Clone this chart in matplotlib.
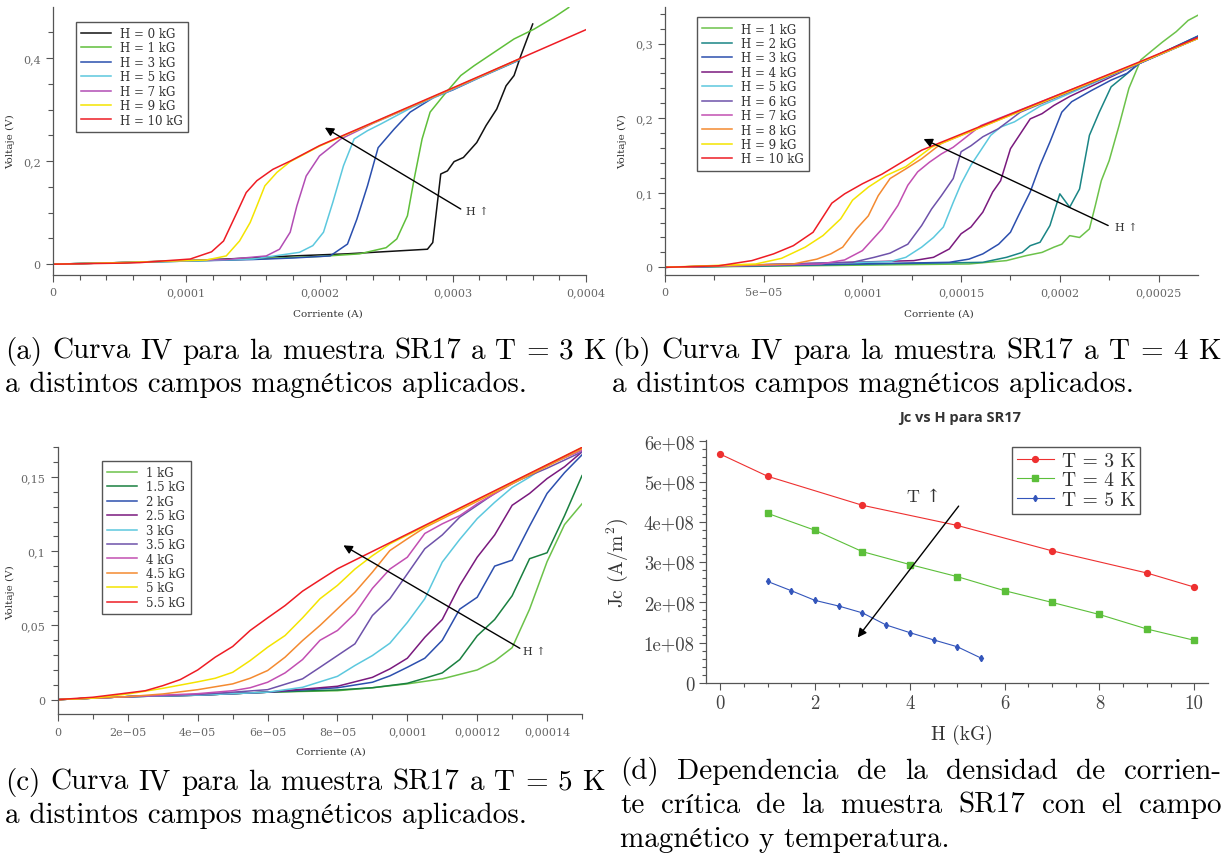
import numpy as np
import matplotlib
matplotlib.use('Agg')
import matplotlib.pyplot as plt
from matplotlib.ticker import MultipleLocator

plt.rcParams['mathtext.fontset'] = 'cm'
plt.rcParams['axes.unicode_minus'] = False

# ---------------- data: panel (a), T = 3 K ----------------
a_labels = ['H = 0 kG', 'H = 1 kG', 'H = 3 kG', 'H = 5 kG', 'H = 7 kG', 'H = 9 kG', 'H = 10 kG']
a_colors = ['#111111', '#5fbf3a', '#2a4fae', '#5cc8de', '#b24db4', '#f4e400', '#ee1c24']
a_I = [
    [0, 5e-5, 1e-4, 1.3e-4, 1.8e-4, 2.2e-4, 2.81e-4, 2.85e-4, 2.91e-4, 2.96e-4, 3.01e-4, 3.08e-4,
     3.18e-4, 3.25e-4, 3.33e-4, 3.4e-4, 3.46e-4, 3.51e-4, 3.6e-4],
    [0, 5e-5, 1e-4, 1.5e-4, 2e-4, 2.3e-4, 2.5e-4, 2.58e-4, 2.66e-4, 2.71e-4, 2.77e-4, 2.83e-4,
     2.93e-4, 3.06e-4, 3.16e-4, 3.31e-4, 3.46e-4, 3.61e-4, 3.76e-4, 3.87e-4],
    [0, 5e-5, 1e-4, 1.5e-4, 1.8e-4, 2.08e-4, 2.21e-4, 2.28e-4, 2.36e-4, 2.44e-4, 2.56e-4, 2.68e-4,
     2.86e-4, 3.0e-4, 3.2e-4, 3.5e-4],
    [0, 5e-5, 1e-4, 1.5e-4, 1.85e-4, 1.95e-4, 2.03e-4, 2.1e-4, 2.18e-4, 2.26e-4, 2.36e-4, 2.46e-4,
     2.7e-4, 3.0e-4, 3.5e-4],
    [0, 5e-5, 1e-4, 1.3e-4, 1.6e-4, 1.7e-4, 1.78e-4, 1.83e-4, 1.9e-4, 2.0e-4, 2.16e-4, 2.4e-4,
     3.0e-4, 3.5e-4],
    [0, 5e-5, 1e-4, 1.15e-4, 1.3e-4, 1.4e-4, 1.48e-4, 1.53e-4, 1.59e-4, 1.68e-4, 1.78e-4, 2.0e-4,
     3.0e-4, 3.5e-4],
    [0, 5e-5, 6.5e-5, 1.03e-4, 1.19e-4, 1.28e-4, 1.38e-4, 1.45e-4, 1.53e-4, 1.65e-4, 1.78e-4,
     2.0e-4, 3.0e-4, 4.0e-4],
]
a_V = [
    [0, 0.003, 0.007, 0.010, 0.016, 0.020, 0.029, 0.042, 0.175, 0.181, 0.199, 0.207,
     0.236, 0.269, 0.301, 0.346, 0.366, 0.404, 0.466],
    [0, 0.003, 0.006, 0.010, 0.015, 0.020, 0.032, 0.049, 0.094, 0.165, 0.243, 0.295,
     0.327, 0.366, 0.385, 0.411, 0.437, 0.456, 0.479, 0.498],
    [0, 0.003, 0.006, 0.009, 0.012, 0.016, 0.039, 0.087, 0.152, 0.226, 0.262, 0.295,
     0.324, 0.338, 0.362, 0.396],
    [0, 0.003, 0.006, 0.010, 0.023, 0.036, 0.062, 0.120, 0.191, 0.243, 0.259, 0.272,
     0.305, 0.339, 0.397],
    [0, 0.003, 0.007, 0.009, 0.016, 0.029, 0.062, 0.113, 0.171, 0.210, 0.243, 0.273,
     0.340, 0.398],
    [0, 0.003, 0.007, 0.008, 0.016, 0.045, 0.081, 0.113, 0.152, 0.178, 0.199, 0.229,
     0.341, 0.398],
    [0, 0.002, 0.003, 0.010, 0.024, 0.045, 0.100, 0.139, 0.162, 0.184, 0.200, 0.230,
     0.342, 0.455],
]

# ---------------- data: panel (b), T = 4 K ----------------
b_labels = ['H = 1 kG', 'H = 2 kG', 'H = 3 kG', 'H = 4 kG', 'H = 5 kG', 'H = 6 kG',
            'H = 7 kG', 'H = 8 kG', 'H = 9 kG', 'H = 10 kG']
b_colors = ['#6cc24a', '#1a8585', '#2c4fae', '#7a1a7e', '#5cc8de', '#6e52aa',
            '#c24fb2', '#f48a30', '#f4e400', '#ee1c24']
b_I = [
    [0, 1.54e-4, 1.73e-4, 1.83e-4, 1.91e-4, 1.97e-4, 2.01e-4, 2.05e-4, 2.1e-4, 2.15e-4, 2.18e-4,
     2.21e-4, 2.25e-4, 2.3e-4, 2.35e-4, 2.41e-4, 2.46e-4, 2.52e-4, 2.59e-4, 2.65e-4, 2.7e-4],
    [0, 1.61e-4, 1.73e-4, 1.81e-4, 1.85e-4, 1.9e-4, 1.95e-4, 2.0e-4, 2.05e-4, 2.1e-4, 2.15e-4,
     2.2e-4, 2.26e-4, 2.32e-4, 2.4e-4, 2.7e-4],
    [0, 1.44e-4, 1.54e-4, 1.61e-4, 1.69e-4, 1.75e-4, 1.79e-4, 1.85e-4, 1.9e-4, 1.95e-4, 2.01e-4,
     2.06e-4, 2.16e-4, 2.26e-4, 2.34e-4, 2.4e-4, 2.7e-4],
    [0, 1.26e-4, 1.36e-4, 1.44e-4, 1.5e-4, 1.55e-4, 1.61e-4, 1.66e-4, 1.7e-4, 1.75e-4, 1.8e-4,
     1.85e-4, 1.91e-4, 1.97e-4, 2.05e-4, 2.4e-4, 2.7e-4],
    [0, 1.14e-4, 1.22e-4, 1.3e-4, 1.36e-4, 1.41e-4, 1.46e-4, 1.5e-4, 1.55e-4, 1.6e-4, 1.65e-4,
     1.7e-4, 1.77e-4, 1.9e-4, 2.4e-4, 2.7e-4],
    [0, 9.5e-5, 1.06e-4, 1.14e-4, 1.23e-4, 1.3e-4, 1.35e-4, 1.4e-4, 1.46e-4, 1.5e-4, 1.55e-4,
     1.61e-4, 1.69e-4, 1.8e-4, 2.4e-4, 2.7e-4],
    [0, 7.9e-5, 9.1e-5, 1.0e-4, 1.1e-4, 1.18e-4, 1.23e-4, 1.28e-4, 1.34e-4, 1.4e-4, 1.46e-4,
     1.6e-4, 2.4e-4, 2.7e-4],
    [0, 6.5e-5, 7.7e-5, 8.4e-5, 9e-5, 9.7e-5, 1.03e-4, 1.08e-4, 1.14e-4, 1.22e-4, 1.3e-4, 1.4e-4,
     2.4e-4, 2.7e-4],
    [0, 4.6e-5, 5.9e-5, 7.1e-5, 8e-5, 8.9e-5, 9.5e-5, 1.03e-4, 1.12e-4, 1.22e-4, 1.35e-4, 2.4e-4,
     2.7e-4],
    [0, 2.7e-5, 4.4e-5, 5.5e-5, 6.5e-5, 7.5e-5, 8.45e-5, 9.1e-5, 1.0e-4, 1.1e-4, 1.3e-4, 2.4e-4,
     2.7e-4],
]
b_V = [
    [0, 0.0045, 0.009, 0.0157, 0.020, 0.027, 0.031, 0.0425, 0.040, 0.0515, 0.083,
     0.116, 0.143, 0.190, 0.240, 0.278, 0.289, 0.302, 0.316, 0.331, 0.338],
    [0, 0.0067, 0.0134, 0.020, 0.029, 0.0336, 0.056, 0.0985, 0.0806, 0.105, 0.177,
     0.208, 0.242, 0.255, 0.273, 0.310],
    [0, 0.0067, 0.011, 0.018, 0.031, 0.047, 0.069, 0.101, 0.137, 0.168, 0.208,
     0.222, 0.237, 0.251, 0.260, 0.273, 0.310],
    [0, 0.009, 0.0134, 0.0246, 0.045, 0.054, 0.074, 0.101, 0.116, 0.159, 0.179,
     0.199, 0.206, 0.217, 0.229, 0.273, 0.308],
    [0, 0.0076, 0.0134, 0.027, 0.040, 0.054, 0.087, 0.112, 0.137, 0.157, 0.177,
     0.188, 0.195, 0.216, 0.273, 0.307],
    [0, 0.0067, 0.0134, 0.019, 0.031, 0.056, 0.078, 0.096, 0.119, 0.155, 0.163,
     0.175, 0.186, 0.208, 0.273, 0.307],
    [0, 0.0045, 0.0099, 0.0224, 0.0515, 0.083, 0.110, 0.128, 0.141, 0.152, 0.161,
     0.190, 0.274, 0.307],
    [0, 0.0045, 0.011, 0.018, 0.027, 0.0515, 0.069, 0.096, 0.119, 0.132, 0.1455, 0.166,
     0.274, 0.307],
    [0, 0.0045, 0.012, 0.027, 0.0425, 0.065, 0.090, 0.1075, 0.123, 0.135, 0.161, 0.274,
     0.307],
    [0, 0.002, 0.009, 0.018, 0.029, 0.047, 0.086, 0.0985, 0.112, 0.125, 0.157, 0.275,
     0.308],
]

# ---------------- data: panel (c), T = 5 K ----------------
c_labels = ['1 kG', '1.5 kG', '2 kG', '2.5 kG', '3 kG', '3.5 kG', '4 kG', '4.5 kG', '5 kG', '5.5 kG']
c_colors = ['#6cc24a', '#1a8040', '#2c4fae', '#7a1a7e', '#5cc8de', '#6e52aa',
            '#c24fb2', '#f48a30', '#f4e400', '#ee1c24']
c_I = [
    [0, 1e-5, 2e-5, 4e-5, 6e-5, 8e-5, 9e-5, 1e-4, 1.1e-4, 1.2e-4, 1.25e-4, 1.3e-4, 1.35e-4,
     1.4e-4, 1.45e-4, 1.5e-4],
    [0, 2e-5, 4e-5, 6e-5, 8e-5, 9e-5, 1e-4, 1.05e-4, 1.1e-4, 1.15e-4, 1.2e-4, 1.25e-4, 1.3e-4,
     1.35e-4, 1.4e-4, 1.45e-4, 1.5e-4],
    [0, 2e-5, 4e-5, 6e-5, 8e-5, 9e-5, 9.5e-5, 1e-4, 1.05e-4, 1.1e-4, 1.15e-4, 1.2e-4, 1.25e-4,
     1.3e-4, 1.35e-4, 1.4e-4, 1.45e-4, 1.5e-4],
    [0, 2e-5, 4e-5, 6e-5, 8e-5, 9e-5, 9.5e-5, 1e-4, 1.05e-4, 1.1e-4, 1.15e-4, 1.2e-4, 1.25e-4,
     1.3e-4, 1.35e-4, 1.4e-4, 1.45e-4, 1.5e-4],
    [0, 2e-5, 4e-5, 6e-5, 7e-5, 8e-5, 8.5e-5, 9e-5, 9.5e-5, 1e-4, 1.05e-4, 1.1e-4, 1.15e-4,
     1.2e-4, 1.25e-4, 1.3e-4, 1.35e-4, 1.4e-4, 1.5e-4],
    [0, 2e-5, 4e-5, 5e-5, 6e-5, 7e-5, 7.5e-5, 8e-5, 8.5e-5, 9e-5, 9.5e-5, 1e-4, 1.05e-4,
     1.1e-4, 1.15e-4, 1.2e-4, 1.25e-4, 1.3e-4, 1.4e-4, 1.5e-4],
    [0, 2e-5, 4e-5, 5e-5, 5.5e-5, 6e-5, 6.5e-5, 7e-5, 7.5e-5, 8e-5, 8.5e-5, 9e-5, 9.5e-5,
     1e-4, 1.05e-4, 1.1e-4, 1.15e-4, 1.2e-4, 1.3e-4, 1.4e-4, 1.5e-4],
    [0, 1e-5, 2e-5, 3e-5, 4e-5, 5e-5, 5.5e-5, 6e-5, 6.5e-5, 7e-5, 7.5e-5, 8e-5, 8.5e-5, 9e-5,
     9.5e-5, 1e-4, 1.05e-4, 1.5e-4],
    [0, 1e-5, 2e-5, 3e-5, 4e-5, 4.5e-5, 5e-5, 5.5e-5, 6e-5, 6.5e-5, 7e-5, 7.5e-5, 8e-5,
     8.5e-5, 9e-5, 9.5e-5, 1.5e-4],
    [0, 1e-5, 2e-5, 2.5e-5, 3e-5, 3.5e-5, 4e-5, 4.5e-5, 5e-5, 5.5e-5, 6e-5, 6.5e-5, 7e-5,
     7.5e-5, 8e-5, 1e-4, 1.5e-4],
]
c_V = [
    [0, 0.001, 0.002, 0.003, 0.005, 0.006, 0.008, 0.0106, 0.014, 0.020, 0.026, 0.035, 0.061,
     0.093, 0.118, 0.132],
    [0, 0.002, 0.003, 0.005, 0.0065, 0.008, 0.011, 0.0144, 0.018, 0.027, 0.043, 0.054, 0.070,
     0.095, 0.099, 0.124, 0.151],
    [0, 0.002, 0.003, 0.005, 0.008, 0.0117, 0.016, 0.0218, 0.0279, 0.040, 0.061, 0.069, 0.090,
     0.094, 0.117, 0.139, 0.153, 0.165],
    [0, 0.002, 0.003, 0.005, 0.009, 0.015, 0.0207, 0.0279, 0.042, 0.054, 0.077, 0.096, 0.111,
     0.131, 0.139, 0.149, 0.157, 0.167],
    [0, 0.002, 0.003, 0.005, 0.0083, 0.0157, 0.023, 0.0297, 0.038, 0.052, 0.068, 0.0927, 0.108,
     0.122, 0.133, 0.143, 0.150, 0.158, 0.169],
    [0, 0.002, 0.0035, 0.005, 0.0067, 0.014, 0.0218, 0.0297, 0.0376, 0.0567, 0.068, 0.0848,
     0.1017, 0.111, 0.123, 0.131, 0.139, 0.146, 0.156, 0.167],
    [0, 0.002, 0.004, 0.006, 0.008, 0.0117, 0.018, 0.027, 0.040, 0.0466, 0.058, 0.075, 0.088,
     0.096, 0.112, 0.1185, 0.124, 0.132, 0.1455, 0.158, 0.168],
    [0, 0.001, 0.002, 0.0038, 0.0067, 0.0106, 0.0144, 0.0196, 0.0286, 0.0398, 0.050, 0.0612,
     0.0724, 0.0859, 0.1005, 0.1084, 0.116, 0.169],
    [0, 0.001, 0.0038, 0.0076, 0.012, 0.0144, 0.0184, 0.0263, 0.0353, 0.0432, 0.0551, 0.068,
     0.077, 0.088, 0.097, 0.105, 0.170],
    [0, 0.0016, 0.0045, 0.006, 0.0094, 0.0135, 0.020, 0.0286, 0.0358, 0.0466, 0.0551, 0.0634,
     0.0731, 0.0807, 0.0882, 0.1116, 0.170],
]

# ---------------- data: panel (d), Jc vs H ----------------
d_H3 = [0, 1, 3, 5, 7, 9, 10]
d_J3 = [5.68e8, 5.13e8, 4.41e8, 3.91e8, 3.28e8, 2.73e8, 2.38e8]
d_H4 = [1, 2, 3, 4, 5, 6, 7, 8, 9, 10]
d_J4 = [4.21e8, 3.79e8, 3.26e8, 2.94e8, 2.64e8, 2.29e8, 2.00e8, 1.70e8, 1.34e8, 1.06e8]
d_H5 = [1, 1.5, 2, 2.5, 3, 3.5, 4, 4.5, 5, 5.5]
d_J5 = [2.52e8, 2.29e8, 2.05e8, 1.91e8, 1.74e8, 1.44e8, 1.25e8, 1.07e8, 0.90e8, 0.62e8]

a_xticks = [0, 1e-4, 2e-4, 3e-4, 4e-4]
a_xticklabels = ['0', '0,0001', '0,0002', '0,0003', '0,0004']
a_yticks = [0, 0.2, 0.4]
a_yticklabels = ['0', '0,2', '0,4']
b_xticks = [0, 5e-5, 1e-4, 1.5e-4, 2e-4, 2.5e-4]
b_xticklabels = ['0', '5e\u221205', '0,0001', '0,00015', '0,0002', '0,00025']
b_yticks = [0, 0.1, 0.2, 0.3]
b_yticklabels = ['0', '0,1', '0,2', '0,3']
c_xticks = [0, 2e-5, 4e-5, 6e-5, 8e-5, 1e-4, 1.2e-4, 1.4e-4]
c_xticklabels = ['0', '2e\u221205', '4e\u221205', '6e\u221205', '8e\u221205', '0,0001', '0,00012', '0,00014']
c_yticks = [0, 0.05, 0.1, 0.15]
c_yticklabels = ['0', '0,05', '0,1', '0,15']
d_xticks = [0, 2, 4, 6, 8, 10]
d_yticks = [0, 1e8, 2e8, 3e8, 4e8, 5e8, 6e8]
d_yticklabels = ['0', '1e+08', '2e+08', '3e+08', '4e+08', '5e+08', '6e+08']

W, H = 1226, 854
fig = plt.figure(figsize=(W / 100, H / 100), dpi=100)


def ax_px(l, t, r, b):
    return fig.add_axes([l / W, 1 - b / H, (r - l) / W, (b - t) / H])


SERIF = 'DejaVu Serif'


def style_iv(ax, xlim, ylim, xt, xtl, yt, ytl, xminor, yminor, xlab_pos, ylab_pos):
    ax.set_xlim(xlim)
    ax.set_ylim(ylim)
    for s in ['top', 'right']:
        ax.spines[s].set_visible(False)
    for s in ['left', 'bottom']:
        ax.spines[s].set_color('#555555')
        ax.spines[s].set_linewidth(0.9)
    ax.set_xticks(xt)
    ax.set_xticklabels(xtl, family=SERIF)
    ax.set_yticks(yt)
    ax.set_yticklabels(ytl, family=SERIF)
    ax.xaxis.set_minor_locator(MultipleLocator(xminor))
    ax.yaxis.set_minor_locator(MultipleLocator(yminor))
    ax.tick_params(which='both', direction='out', color='#555555', labelcolor='#666666',
                   labelsize=8, width=0.8)
    ax.tick_params(which='major', length=5, pad=4)
    ax.tick_params(which='minor', length=3.5)
    ax.set_xlabel('Corriente (A)', family=SERIF, fontsize=7.5, color='#333333')
    ax.set_ylabel('Voltaje (V)', family=SERIF, fontsize=7.5, color='#333333')
    ax.xaxis.set_label_coords(*xlab_pos, transform=fig.transFigure)
    ax.yaxis.set_label_coords(*ylab_pos, transform=fig.transFigure)


def iv_legend(ax, anchor, fs=8.5):
    leg = ax.legend(loc='upper left', bbox_to_anchor=anchor, prop={'family': SERIF, 'size': fs},
                    frameon=True, fancybox=False, edgecolor='#555555', framealpha=1,
                    borderpad=0.45, labelspacing=0.12, handlelength=2.5, handletextpad=0.8,
                    borderaxespad=0)
    leg.get_frame().set_linewidth(1.0)
    for t in leg.get_texts():
        t.set_color('#333333')


def px2fig(x, y):
    return (x / W, 1 - y / H)


def arrow(ax, tail, head):
    ax.annotate('', xy=head, xytext=tail,
                arrowprops=dict(arrowstyle='-|>', color='black', lw=1.0,
                                mutation_scale=13, shrinkA=0, shrinkB=0))


# ---------------- panel (a) ----------------
axa = ax_px(53, 8, 586, 276)
for I, V, col, lab in zip(a_I, a_V, a_colors, a_labels):
    axa.plot(I, V, color=col, lw=1.1, label=lab)
style_iv(axa, (0, 4e-4), (-0.021, 0.499), a_xticks, a_xticklabels, a_yticks, a_yticklabels,
         2e-5, 0.05, px2fig(328, 310), px2fig(15, 142))
iv_legend(axa, ((76 - 53) / 533, (276 - 22.7) / 268))
arrow(axa, (3.06e-4, 0.107), (2.04e-4, 0.265))
axa.text(3.1e-4, 0.103, 'H \u2191', family=SERIF, fontsize=8, color='#333333', va='center')

# ---------------- panel (b) ----------------
axb = ax_px(665, 8, 1198, 276)
for I, V, col, lab in zip(b_I, b_V, b_colors, b_labels):
    axb.plot(I, V, color=col, lw=1.1, label=lab)
style_iv(axb, (0, 2.7e-4), (-0.0103, 0.349), b_xticks, b_xticklabels, b_yticks, b_yticklabels,
         2.5e-5, 0.02, px2fig(939, 310), px2fig(627, 142))
iv_legend(axb, ((697 - 665) / 533, (276 - 18.3) / 268))
arrow(axb, (2.245e-4, 0.056), (1.31e-4, 0.172))
axb.text(2.28e-4, 0.054, 'H \u2191', family=SERIF, fontsize=8, color='#333333', va='center')

# ---------------- panel (c) ----------------
axc = ax_px(58, 448, 582, 715)
for I, V, col, lab in zip(c_I, c_V, c_colors, c_labels):
    axc.plot(I, V, color=col, lw=1.1, label=lab)
style_iv(axc, (0, 1.5e-4), (-0.0097, 0.1703), c_xticks, c_xticklabels, c_yticks, c_yticklabels,
         1e-5, 0.01, px2fig(331, 748), px2fig(15, 593))
iv_legend(axc, ((102 - 58) / 524, (715 - 461.7) / 267))
arrow(axc, (1.322e-4, 0.0346), (8.17e-5, 0.104))
axc.text(1.33e-4, 0.0326, 'H \u2191', family=SERIF, fontsize=8, color='#333333', va='center')

# ---------------- panel (d) ----------------
CM = ['cmr10', 'DejaVu Serif']
axd = ax_px(705.5, 441, 1208, 684)
axd.plot(d_H3, d_J3, '-o', color='#ee3030', ms=4.2, lw=0.8, label='T = 3 K')
axd.plot(d_H4, d_J4, '-s', color='#5cbf3a', ms=3.8, lw=0.8, label='T = 4 K')
axd.plot(d_H5, d_J5, '-d', color='#3355bb', ms=3.2, lw=0.8, label='T = 5 K')
axd.set_xlim(-0.31, 10.29)
axd.set_ylim(0, 6.03e8)
for s in ['top', 'right']:
    axd.spines[s].set_visible(False)
for s in ['left', 'bottom']:
    axd.spines[s].set_color('#555555')
    axd.spines[s].set_linewidth(0.9)
axd.set_xticks(d_xticks)
axd.set_xticklabels([str(v) for v in d_xticks], family=CM)
axd.set_yticks(d_yticks)
axd.set_yticklabels(d_yticklabels, family=CM)
axd.xaxis.set_minor_locator(MultipleLocator(0.5))
axd.yaxis.set_minor_locator(MultipleLocator(2e7))
axd.tick_params(which='both', direction='out', color='#555555', labelcolor='#444444',
                labelsize=13.5, width=0.8)
axd.tick_params(which='major', length=5, pad=3)
axd.tick_params(which='minor', length=3)
axd.set_xlabel('H (kG)', family=CM, fontsize=14, color='#333333')
axd.set_ylabel(r'Jc (A/m$^2$)', family=CM, fontsize=14, color='#333333')
axd.xaxis.set_label_coords(*px2fig(962, 725), transform=fig.transFigure)
axd.yaxis.set_label_coords(*px2fig(630, 563), transform=fig.transFigure)
legd = axd.legend(loc='upper left', bbox_to_anchor=((1012 - 705.5) / 502.5, (684 - 448) / 243),
                  prop={'family': CM, 'size': 14}, frameon=True, fancybox=False,
                  edgecolor='#555555', framealpha=1, borderpad=0.25, labelspacing=0.08,
                  handlelength=1.9, handletextpad=0.4, borderaxespad=0)
legd.get_frame().set_linewidth(1.0)
for t in legd.get_texts():
    t.set_color('#333333')
arrow(axd, (5.03, 4.39e8), (2.90, 1.13e8))
axd.text(4.31, 4.62e8, 'T \u2191', family=CM, fontsize=13, color='#333333',
         ha='center', va='center')
fig.text(*px2fig(960, 418), 'Jc vs H para SR17', ha='center', va='center', fontsize=10.5,
         weight='bold', family='Open Sans', color='#333333')

# ---------------- captions ----------------
CAP = dict(family=['cmr10', 'STIXGeneral'], fontsize=21, color='black', va='baseline')


def justify(text, x0, x1, y):
    words = text.split(' ')
    objs = [fig.text(0, 1 - y / H, w, **CAP) for w in words]
    r = fig.canvas.get_renderer()
    widths = [o.get_window_extent(r).width for o in objs]
    gap = (x1 - x0 - sum(widths)) / (len(words) - 1)
    x = x0
    for o, w in zip(objs, widths):
        o.set_x(x / W)
        x += w + gap


def left(text, x0, y):
    fig.text(x0 / W, 1 - y / H, text, **CAP)


fig.canvas.draw()
justify('(a) Curva IV para la muestra SR17 a T = 3 K', 5, 606, 359)
left('a distintos campos magnéticos aplicados.', 5, 392)
justify('(b) Curva IV para la muestra SR17 a T = 4 K', 612, 1221, 359)
left('a distintos campos magnéticos aplicados.', 612, 392)
justify('(c) Curva IV para la muestra SR17 a T = 5 K', 5, 605, 790)
left('a distintos campos magnéticos aplicados.', 5, 823)
justify('(d) Dependencia de la densidad de corrien-', 620, 1221, 779)
justify('te crítica de la muestra SR17 con el campo', 620, 1221, 813)
left('magnético y temperatura.', 620, 847)

fig.savefig('out.png', dpi=100)
